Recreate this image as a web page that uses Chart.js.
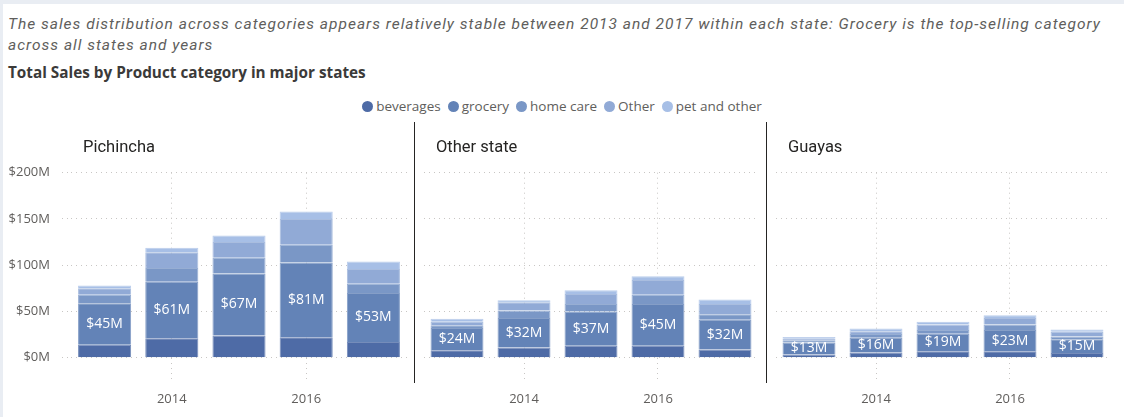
<!DOCTYPE html>
<html>
<head>
<meta charset="utf-8">
<script src="https://cdn.jsdelivr.net/npm/chart.js@4.4.1/dist/chart.umd.min.js"></script>
<style>
  body { margin: 0; width: 1124px; height: 417px; overflow: hidden; background: #e9edf3; }
  #card { position: absolute; left: 3px; top: 4px; right: 0; bottom: 0; background: #fff; }
  .abs { position: absolute; }
  #subtitle { left: 8px; top: 14px; width: 1112px; font: italic 15.5px Roboto, sans-serif; letter-spacing: 1px; line-height: 20.5px; color: #605e5c; }
  #title { left: 8px; top: 62px; font: bold 15.3px "Open Sans", sans-serif; line-height: 20px; color: #3b3a39; }
  #legend { left: 0; width: 1124px; top: 97px; height: 18px; display: flex; justify-content: center; align-items: center; font: 13.5px "Open Sans", sans-serif; color: #605e5c; }
  #legend span.item { display: flex; align-items: center; margin: 0 3.5px; }
  #legend span.dot { width: 11px; height: 11px; border-radius: 50%; margin-right: 3px; display: inline-block; }
  .panelTitle { top: 137px; font: 16.5px Roboto, sans-serif; line-height: 20px; color: #252423; }
  .sep { top: 122px; width: 1px; height: 261px; background: #252423; }
  canvas { position: absolute; top: 122px; }
</style>
</head>
<body>
<div id="card"></div>
<div id="subtitle" class="abs">The sales distribution across categories appears relatively stable between 2013 and 2017 within each state: Grocery is the top-selling category across all states and years</div>
<div id="title" class="abs">Total Sales by Product category in major states</div>
<div id="legend" class="abs"></div>
<canvas id="c0" width="414" height="295" style="left:0px"></canvas>
<canvas id="c1" width="352" height="295" style="left:414px"></canvas>
<canvas id="c2" width="358" height="295" style="left:766px"></canvas>
<div class="abs sep" style="left:414px"></div>
<div class="abs sep" style="left:766px"></div>
<div class="abs panelTitle" style="left:83px">Pichincha</div>
<div class="abs panelTitle" style="left:436px">Other state</div>
<div class="abs panelTitle" style="left:788px">Guayas</div>
<script>
// values in $M, one row per state: Pichincha, Other state, Guayas
const years = ["2013", "2014", "2015", "2016", "2017"];
const shownYears = ["2014", "2016"];
const states = ["Pichincha", "Other state", "Guayas"];
const categories = ["beverages", "grocery", "home care", "Other", "pet and other"];

const beverages = [[14, 21, 24, 22, 17], [8, 11, 13, 13, 9], [3.5, 5.5, 7, 7, 5]];
const grocery = [[45, 61, 67, 81, 53], [24, 32, 37, 45, 32], [13, 16, 19, 23, 15]];
const homeCare = [[9, 15, 17, 19, 10], [3, 8, 8, 10, 6], [2.5, 4, 4, 6, 3]];
const otherCat = [[7, 17, 17, 28, 16], [4, 9, 11, 16, 11], [1.5, 3, 6, 7, 5]];
const petOther = [[3, 5, 7, 8, 8], [3, 2, 4, 4, 5], [2, 3, 3, 3, 2.5]];

const yTicks = [0, 50, 100, 150, 200];

const seriesData = [beverages, grocery, homeCare, otherCat, petOther];
const colors = ["#4e6ba6", "#6383b7", "#7a97c6", "#91aad6", "#a7bfe6"];
const gridColor = "#c8c6c4";

// lighter edge for each segment, like the thin outline in the report
function lighten(hex, amt) {
  const n = parseInt(hex.slice(1), 16);
  const mix = (c) => Math.round(c + (255 - c) * amt);
  return `rgb(${mix(n >> 16)},${mix((n >> 8) & 255)},${mix(n & 255)})`;
}

// legend
const legendEl = document.getElementById("legend");
categories.forEach((name, k) => {
  const item = document.createElement("span");
  item.className = "item";
  item.innerHTML = `<span class="dot" style="background:${colors[k]}"></span>${name}`;
  legendEl.appendChild(item);
});

const valueLabels = {
  id: "valueLabels",
  afterDatasetsDraw(chart) {
    const ctx = chart.ctx;
    const meta = chart.getDatasetMeta(1);
    const values = chart.data.datasets[1].data;
    ctx.save();
    ctx.fillStyle = "#ffffff";
    ctx.font = '14px "Open Sans", sans-serif';
    ctx.textAlign = "center";
    ctx.textBaseline = "middle";
    meta.data.forEach((bar, i) => {
      ctx.fillText(`$${Math.round(values[i])}M`, bar.x, (bar.y + bar.base) / 2);
    });
    ctx.restore();
  },
};

const pads = [
  { left: 0, right: 7 },
  { left: 9.5, right: 7.5 },
  { left: 9.5, right: 13.5 },
];

function yearGridColor(ctx) {
  if (ctx.tick && shownYears.includes(years[ctx.index])) return gridColor;
  return "rgba(0,0,0,0)";
}

states.forEach((state, i) => {
  const first = i === 0;
  new Chart(document.getElementById("c" + i), {
    type: "bar",
    data: {
      labels: years,
      datasets: categories.map((name, k) => ({
        label: name,
        data: seriesData[k][i],
        backgroundColor: colors[k],
        borderColor: lighten(colors[k], 0.22),
        borderWidth: { top: 1, left: 1, right: 1, bottom: 0 },
        borderSkipped: false,
        categoryPercentage: 0.79,
        barPercentage: 1,
      })),
    },
    options: {
      responsive: false,
      animation: false,
      layout: { padding: { top: 50.7, bottom: 0, left: pads[i].left, right: pads[i].right } },
      plugins: { legend: { display: false }, tooltip: { enabled: false } },
      scales: {
        x: {
          stacked: true,
          offset: true,
          grid: {
            offset: false,
            color: yearGridColor,
            tickColor: yearGridColor,
            tickLength: 25,
            tickBorderDash: [1, 4],
          },
          border: { display: false, dash: [1, 4] },
          ticks: {
            autoSkip: false,
            maxRotation: 0,
            padding: 9,
            color: "#605e5c",
            font: { family: "Open Sans", size: 13 },
            callback: (v, idx) => (shownYears.includes(years[idx]) ? years[idx] : ""),
          },
          afterFit: (scale) => { scale.height = 59.3; },
        },
        y: {
          stacked: true,
          min: 0,
          max: 200,
          afterBuildTicks: (scale) => { scale.ticks = yTicks.map((v) => ({ value: v })); },
          grid: {
            color: gridColor,
            tickColor: gridColor,
            drawTicks: first,
            tickLength: 9,
            tickBorderDash: [1, 4],
          },
          border: { display: false, dash: [1, 4] },
          ticks: {
            display: first,
            padding: 12,
            color: "#605e5c",
            font: { family: "Open Sans", size: 13 },
            callback: (v) => `$${v}M`,
          },
          afterFit: (scale) => { scale.width = first ? 71 : 0; },
        },
      },
    },
    plugins: [valueLabels],
  });
});
</script>
</body>
</html>
